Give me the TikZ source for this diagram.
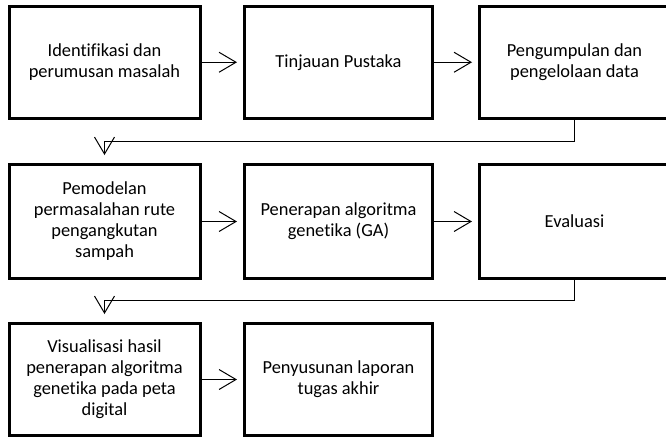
\documentclass[tikz,border=0pt]{standalone}
\usepackage{fontspec}
\setmainfont[Ligatures={NoCommon,NoRare,NoContextual}]{Carlito}
\usetikzlibrary{arrows.meta}
\begin{document}
\begin{tikzpicture}[x=1pt,y=-1pt,
  stepbox/.style={draw=black, line width=3pt, minimum width=190pt, minimum height=112pt,
    align=center, inner sep=0pt, font=\fontsize{18.4}{21}\selectfont},
  arr/.style={line width=1pt, -{Straight Barb[length=17pt,width=20pt,line width=1pt]}},
  link/.style={line width=1pt}]
\useasboundingbox (0,0) rectangle (666,437);
\clip (0,0) rectangle (666,437);
\fill[white] (0,0) rectangle (666,437);
% row 1
\node[stepbox, minimum width=191pt] (b1) at (104.5,62.25) {Identifikasi dan\\perumusan masalah};
\node[stepbox, minimum width=188pt] (b2) at (338.5,62.25) {Tinjauan Pustaka};
\node[stepbox] (b3) at (574.5,62.25) {Pengumpulan dan\\pengelolaan data};
% row 2
\node[stepbox, minimum width=191pt, minimum height=114pt] (b4) at (104.5,221.5) {Pemodelan\\permasalahan rute\\pengangkutan\\sampah};
\node[stepbox, minimum width=188pt, minimum height=114pt] (b5) at (338.5,221.5) {Penerapan algoritma\\genetika (GA)};
\node[stepbox, minimum height=114pt] (b6) at (574.5,221.5) {Evaluasi};
% row 3
\node[stepbox, minimum width=191pt] (b7) at (104.5,379.5) {Visualisasi hasil\\penerapan algoritma\\genetika pada peta\\digital};
\node[stepbox, minimum width=188pt] (b8) at (338.5,379.5) {Penyusunan laporan\\tugas akhir};
% connectors
\coordinate (j1) at (574.5,141.8);
\coordinate (j2) at (574.5,300.5);
\draw[arr, shorten >=6pt] (b1.east) -- (b2.west);
\draw[arr, shorten >=6pt] (b2.east) -- (b3.west);
\draw[arr] (b3.south) |- (j1) -| ([yshift=8pt]b4.north);
\draw[arr, shorten >=6pt] (b4.east) -- (b5.west);
\draw[arr, shorten >=6pt] (b5.east) -- (b6.west);
\draw[arr] (b6.south) |- (j2) -| ([yshift=8pt]b7.north);
\draw[arr, shorten >=6pt] (b7.east) -- (b8.west);
\end{tikzpicture}
\end{document}
